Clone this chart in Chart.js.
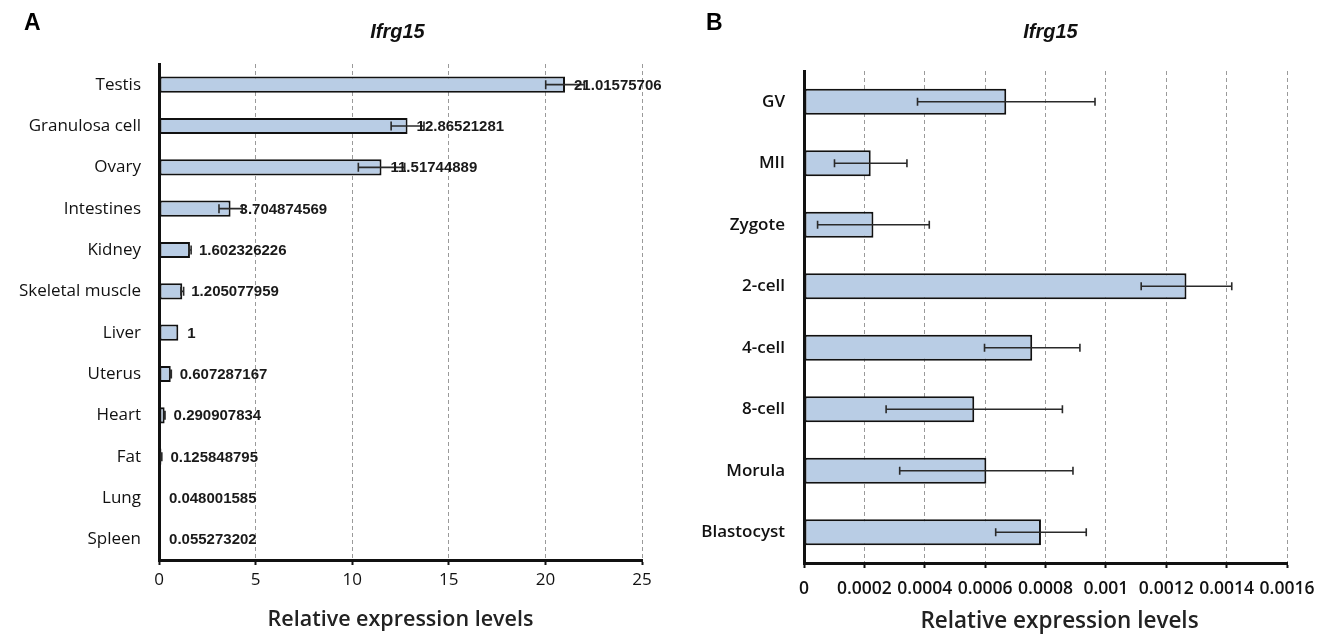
<!DOCTYPE html>
<html><head><meta charset="utf-8">
<script src="https://cdn.jsdelivr.net/npm/chart.js@4.4.1/dist/chart.umd.min.js"></script>
<style>
html,body{margin:0;padding:0;background:#fff;width:1326px;height:634px;overflow:hidden;}
#ca{position:absolute;left:0;top:0;}
#cb{position:absolute;left:680px;top:0;}
.lbl{position:absolute;font-family:"Liberation Sans",Arial,sans-serif;font-weight:bold;font-size:23px;color:#000;line-height:1;}
</style></head><body>
<canvas id="ca" width="680" height="634"></canvas>
<canvas id="cb" width="646" height="634"></canvas>
<div class="lbl" style="left:24px;top:11px">A</div>
<div class="lbl" style="left:706px;top:11px">B</div>
<script>
// ---- Data: panel A (tissues) ----
const categoriesA = ['Testis','Granulosa cell','Ovary','Intestines','Kidney','Skeletal muscle','Liver','Uterus','Heart','Fat','Lung','Spleen'];
const valuesA = [21.01575706, 12.86521281, 11.51744889, 3.704874569, 1.602326226, 1.205077959, 1, 0.607287167, 0.290907834, 0.125848795, 0.048001585, 0.055273202];
const errorsA = [1.0, 0.85, 1.2, 0.6, 0.06, 0.07, 0, 0.03, 0.02, 0.02, 0, 0];
const tickLabelsA = ['0','5','10','15','20','25'];

// ---- Data: panel B (embryo stages) ----
const categoriesB = ['GV','MII','Zygote','2-cell','4-cell','8-cell','Morula','Blastocyst'];
const valuesB = [0.00067, 0.000221, 0.00023, 0.001267, 0.000756, 0.000564, 0.000604, 0.000785];
const errorsB = [0.000294, 0.00012, 0.000185, 0.00015, 0.000158, 0.000292, 0.000287, 0.00015];
const tickLabelsB = ['0','0.0002','0.0004','0.0006','0.0008','0.001','0.0012','0.0014','0.0016'];

const chartTitle = 'Ifrg15';
const axisTitle = 'Relative expression levels';

const FONT = '"Liberation Sans", Arial, sans-serif';
const FONT2 = '"Open Sans", "Liberation Sans", Arial, sans-serif';
const BAR_FILL = '#b9cde5';

const overlayPlugin = {
  id: 'overlay',
  afterDatasetsDraw(chart, args, opts) {
    const ctx = chart.ctx;
    const xs = chart.scales.x;
    const meta = chart.getDatasetMeta(0);
    const vals = chart.data.datasets[0].data;
    const ca = chart.chartArea;
    ctx.save();
    // error bars
    ctx.strokeStyle = '#2a2a2a';
    ctx.lineWidth = 1.6;
    vals.forEach((v, i) => {
      const e = opts.errors[i];
      if (!e) return;
      const y = meta.data[i].y;
      const x1 = xs.getPixelForValue(Math.max(0, v - e));
      const x2 = xs.getPixelForValue(v + e);
      const h = opts.cap;
      ctx.beginPath();
      ctx.moveTo(x1, y); ctx.lineTo(x2, y);
      ctx.moveTo(x1, y - h/2); ctx.lineTo(x1, y + h/2);
      ctx.moveTo(x2, y - h/2); ctx.lineTo(x2, y + h/2);
      ctx.stroke();
    });
    // value labels
    if (opts.showValues) {
      ctx.fillStyle = '#1a1a1a';
      ctx.font = 'bold 15px ' + FONT;
      ctx.textAlign = 'left';
      ctx.textBaseline = 'middle';
      vals.forEach((v, i) => {
        const x = Math.max(meta.data[i].x, ca.left) + 9;
        ctx.fillText(String(v), x, meta.data[i].y + 1);
      });
    }
    // chart title
    ctx.fillStyle = '#111';
    ctx.font = 'italic bold 20px ' + FONT;
    ctx.textAlign = 'center';
    ctx.textBaseline = 'middle';
    ctx.fillText(opts.title, (ca.left + ca.right) / 2 + opts.titleDx, opts.titleY);
    // axis title
    ctx.fillStyle = '#222';
    ctx.font = '600 ' + opts.axisSize + 'px ' + FONT2;
    ctx.fillText(opts.axisTitle, (ca.left + ca.right) / 2 + opts.axisDx, opts.axisY);
    ctx.restore();
  }
};

function makeChart(id, cats, vals, errs, tickLabels, cfg) {
  return new Chart(document.getElementById(id), {
    type: 'bar',
    data: {
      labels: cats,
      datasets: [{
        data: vals,
        backgroundColor: BAR_FILL,
        borderColor: '#111',
        borderWidth: 2,
        borderSkipped: false,
        barPercentage: cfg.barPct,
        categoryPercentage: 1
      }]
    },
    options: {
      indexAxis: 'y',
      responsive: false,
      animation: false,
      layout: { padding: { left: 0, right: cfg.padRight, top: cfg.padTop, bottom: 0 } },
      plugins: {
        legend: { display: false },
        tooltip: { enabled: false },
        title: { display: false },
        overlay: {
          errors: errs, cap: cfg.cap, showValues: cfg.showValues,
          title: chartTitle, titleY: 32, titleDx: cfg.titleDx,
          axisTitle: axisTitle, axisY: cfg.axisY, axisDx: cfg.axisDx, axisSize: cfg.axisSize
        }
      },
      scales: {
        x: {
          min: 0, max: cfg.max,
          afterBuildTicks: (s) => { s.ticks = tickLabels.map((t, i) => ({ value: i * cfg.step })); },
          ticks: {
            callback: (v, i) => tickLabels[i],
            font: { family: FONT2, size: cfg.tickSize, weight: cfg.tickWeight },
            color: '#111',
            padding: cfg.tickPad,
            maxRotation: 0,
            autoSkip: false
          },
          grid: {
            color: (c) => (c.index === 0 ? 'rgba(0,0,0,0)' : '#9a9a9a'),
            lineWidth: 1,
            drawTicks: true,
            tickLength: 5,
            tickColor: '#111',
            tickWidth: 2,
            tickBorderDash: []
          },
          border: { display: true, color: '#111', width: 3, dash: [4, 3] },
          title: { display: false },
          afterFit: (s) => { s.height = cfg.xHeight; }
        },
        y: {
          ticks: {
            font: { family: FONT2, size: cfg.catSize, weight: cfg.catWeight },
            color: '#111',
            padding: cfg.catPad
          },
          grid: { display: false, drawTicks: false },
          border: { display: true, color: '#111', width: 3 },
          afterFit: (s) => { s.width = cfg.yWidth; }
        }
      }
    },
    plugins: [overlayPlugin]
  });
}

makeChart('ca', categoriesA, valuesA, errorsA, tickLabelsA, {
  barPct: 0.39, padRight: 38, padTop: 64, max: 25, step: 5,
  tickSize: 17, tickWeight: '500', tickPad: 5, xHeight: 74,
  catSize: 17, catWeight: '500', catPad: 18, yWidth: 159, cap: 9, showValues: true,
  titleDx: -3, axisY: 620, axisDx: 0, axisSize: 21.5
});

makeChart('cb', categoriesB, valuesB, errorsB, tickLabelsB, {
  barPct: 0.42, padRight: 39, padTop: 71, max: 0.0016, step: 0.0002,
  tickSize: 17.5, tickWeight: '600', tickPad: 11, xHeight: 71,
  catSize: 17, catWeight: '600', catPad: 19, yWidth: 124, cap: 8, showValues: false,
  titleDx: 5, axisY: 622, axisDx: 14, axisSize: 22.5
});
</script>
</body></html>
